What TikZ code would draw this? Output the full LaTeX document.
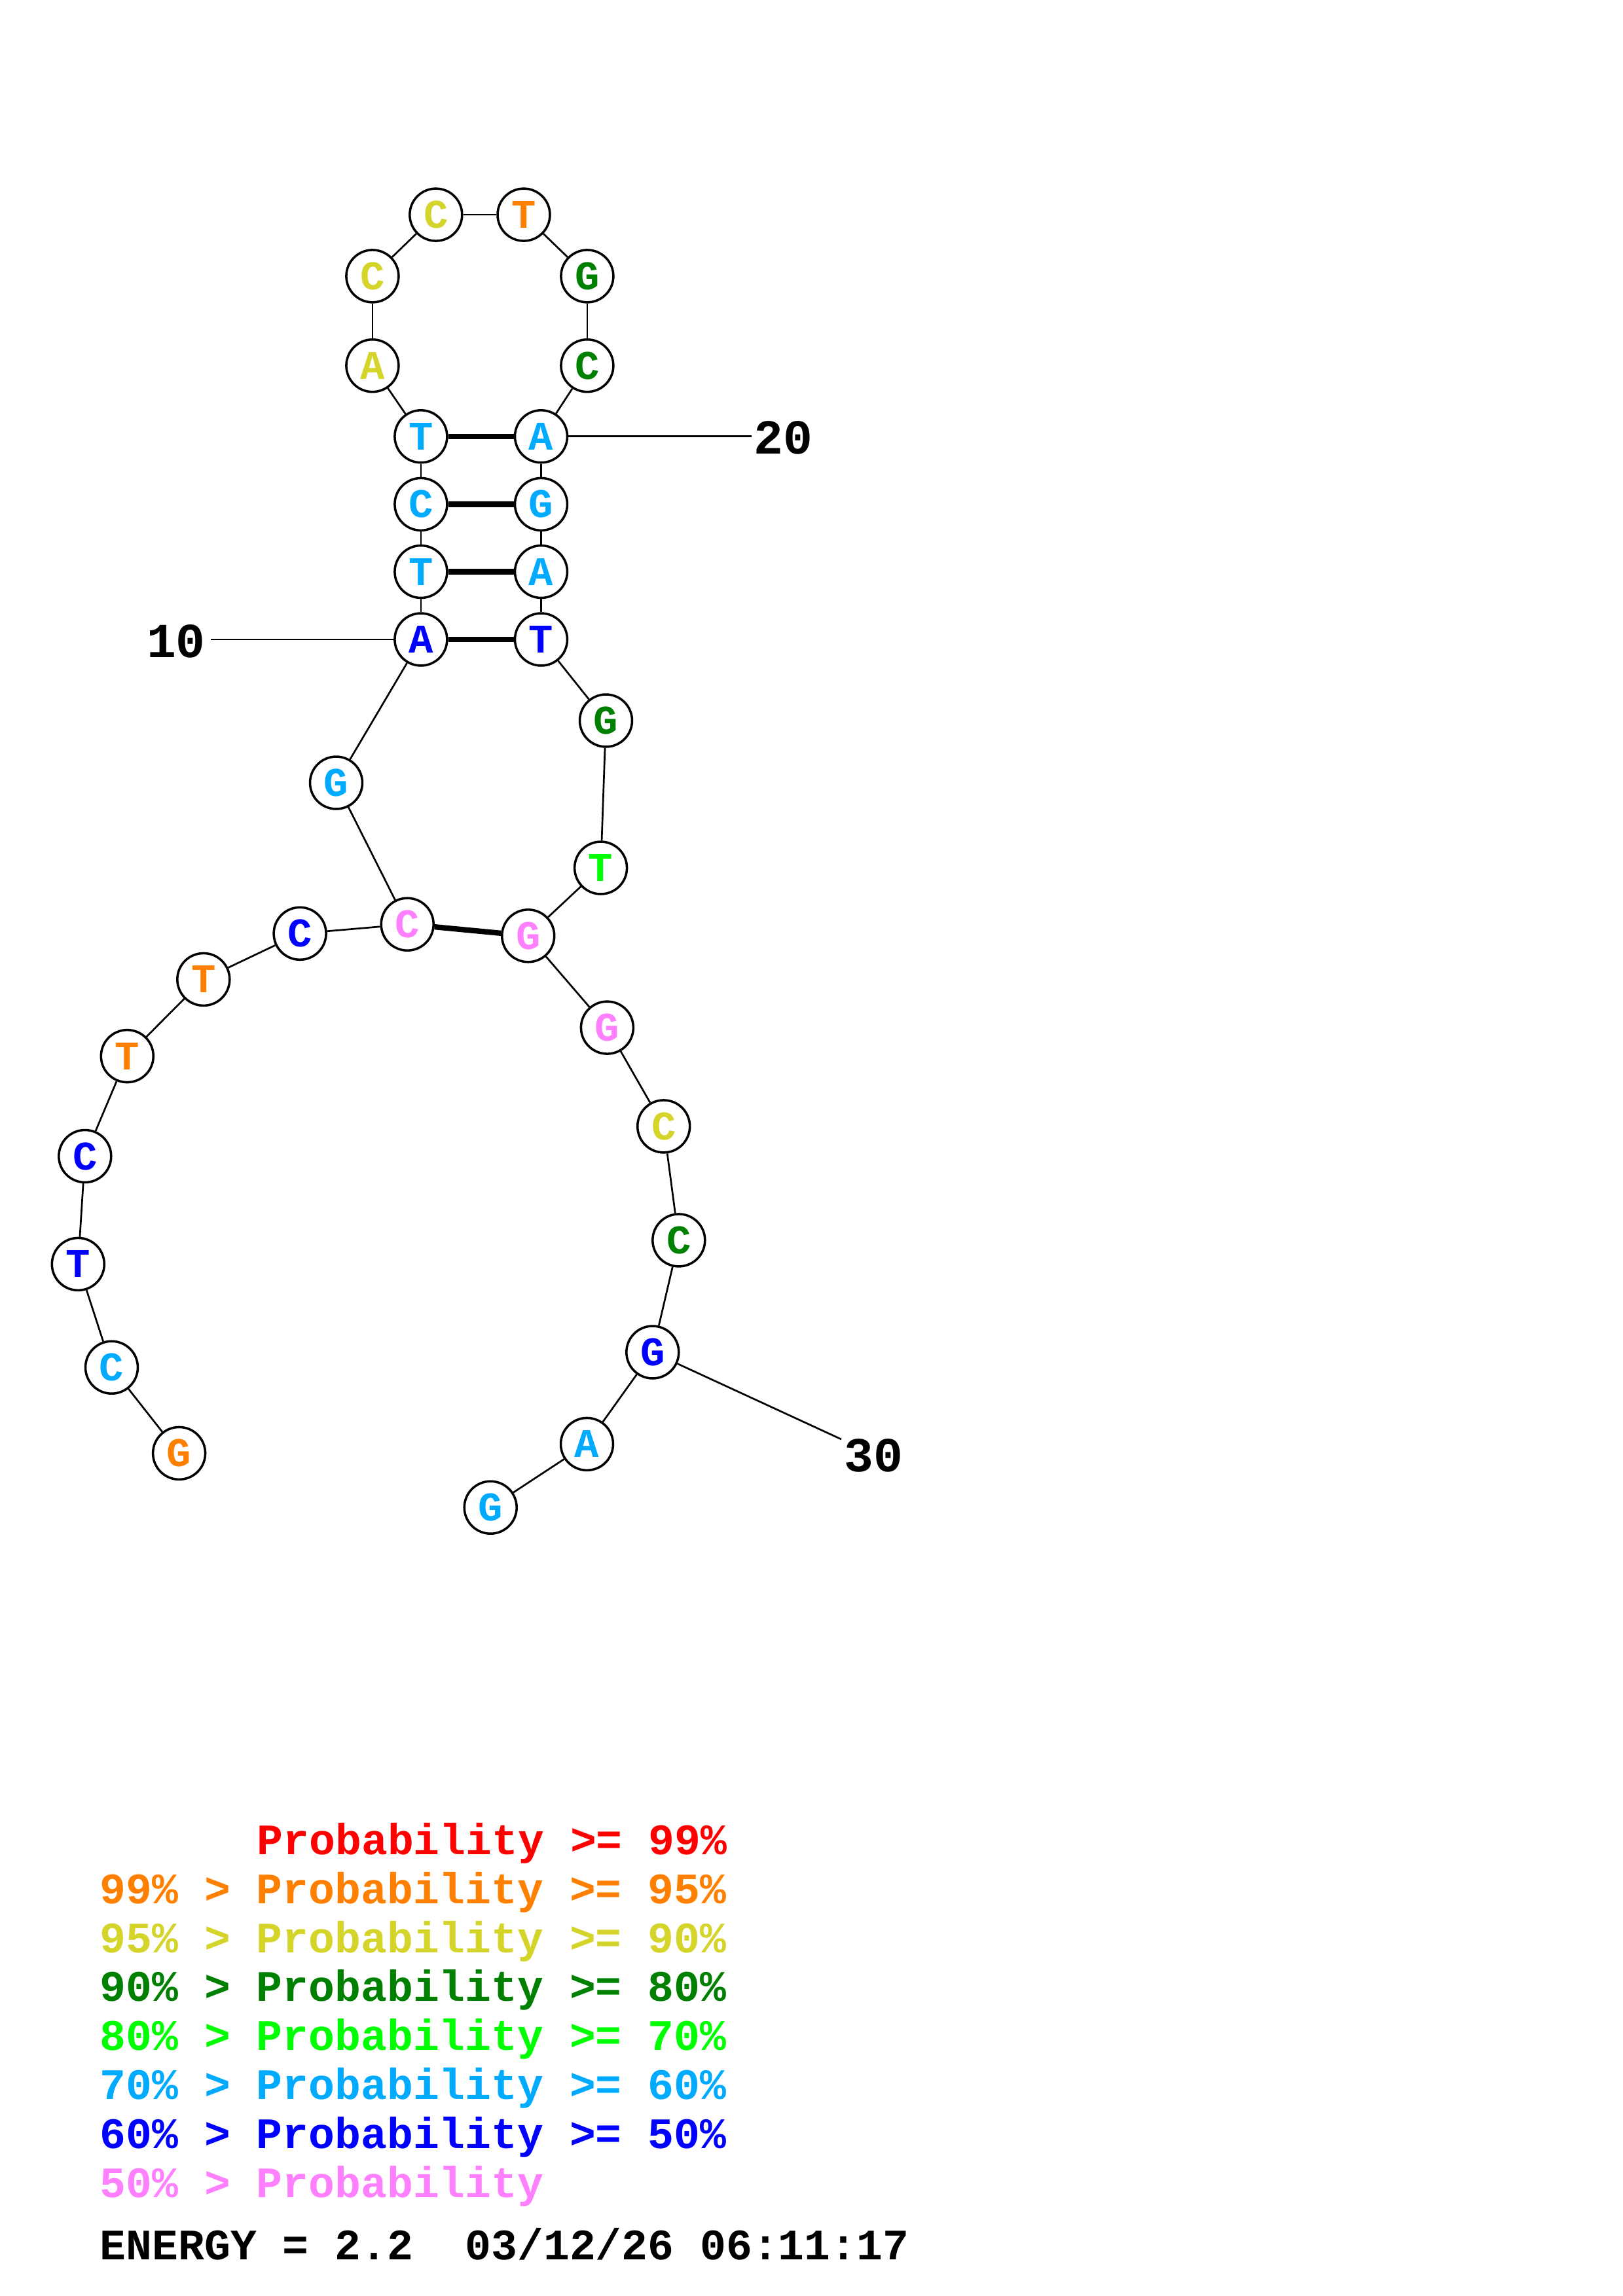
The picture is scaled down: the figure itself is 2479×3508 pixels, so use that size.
\documentclass[tikz,border=0pt]{standalone}
\usepackage{fontspec}
\newfontfamily\rnafont{Liberation Mono}
\definecolor{p99}{RGB}{255,0,0}
\definecolor{p95}{RGB}{255,128,0}
\definecolor{p90}{RGB}{212,212,42}
\definecolor{p80}{RGB}{0,128,0}
\definecolor{p70}{RGB}{0,255,0}
\definecolor{p60}{RGB}{0,170,255}
\definecolor{p50}{RGB}{0,0,255}
\definecolor{plow}{RGB}{255,128,255}
\tikzset{
  base/.style={circle, draw, fill=white, line width=0.85pt, minimum size=6.77mm,
    inner sep=0pt, font=\rnafont\bfseries\fontsize{15}{15}\selectfont},
  bb/.style={line width=0.65pt},
  bond/.style={line width=2pt},
  idx/.style={font=\rnafont\bfseries\fontsize{18}{18}\selectfont},
  legend/.style={anchor=base west, inner sep=0pt,
    font=\rnafont\bfseries\fontsize{16}{16}\selectfont}
}
\begin{document}
\begin{tikzpicture}[x=0.084667mm, y=-0.084667mm]
\useasboundingbox (0,0) rectangle (2479,3508);
{
\node[base, text=p95]  (1) at (273.6, 2220.4) {G};
\node[base, text=p60]  (2) at (170.5, 2089.2) {C};
\node[base, text=p50]  (3) at (119.3, 1931.4) {T};
\node[base, text=p50]  (4) at (129.8, 1766.5) {C};
\node[base, text=p95]  (5) at (194.3, 1613.6) {T};
\node[base, text=p95]  (6) at (310.8, 1496.4) {T};
\node[base, text=p50]  (7) at (458.1, 1426.3) {C};
\node[base, text=plow] (8) at (622.2, 1412.2) {C};
\node[base, text=p60]  (9) at (513.5, 1196.0) {G};
\node[base, text=p50]  (10) at (642.9, 977.0) {A};
\node[base, text=p60]  (11) at (642.9, 873.5) {T};
\node[base, text=p60]  (12) at (642.9, 770.4) {C};
\node[base, text=p60]  (13) at (642.9, 666.8) {T};
\node[base, text=p90]  (14) at (568.9, 558.7) {A};
\node[base, text=p90]  (15) at (568.9, 421.9) {C};
\node[base, text=p90]  (16) at (665.8, 328.1) {C};
\node[base, text=p95]  (17) at (800.0, 328.1) {T};
\node[base, text=p80]  (18) at (896.9, 421.9) {G};
\node[base, text=p80]  (19) at (896.9, 558.7) {C};
\node[base, text=p60]  (20) at (826.5, 666.8) {A};
\node[base, text=p60]  (21) at (826.5, 770.4) {G};
\node[base, text=p60]  (22) at (826.5, 873.5) {A};
\node[base, text=p50]  (23) at (826.5, 977.0) {T};
\node[base, text=p80]  (24) at (925.5, 1101.0) {G};
\node[base, text=p70]  (25) at (917.6, 1326.0) {T};
\node[base, text=plow] (26) at (806.7, 1429.8) {G};
\node[base, text=plow] (27) at (927.4, 1570.1) {G};
\node[base, text=p90]  (28) at (1013.7, 1720.9) {C};
\node[base, text=p80]  (29) at (1036.8, 1894.9) {C};
\node[base, text=p50]  (30) at (996.8, 2066.0) {G};
\node[base, text=p60]  (31) at (896.5, 2206.4) {A};
\node[base, text=p60]  (32) at (749.2, 2303.2) {G};

% backbone 5' -> 3'
\path[bb] (1) edge (2);
\path[bb] (2) edge (3);
\path[bb] (3) edge (4);
\path[bb] (4) edge (5);
\path[bb] (5) edge (6);
\path[bb] (6) edge (7);
\path[bb] (7) edge (8);
\path[bb] (8) edge (9);
\path[bb] (9) edge (10);
\path[bb] (10) edge (11);
\path[bb] (11) edge (12);
\path[bb] (12) edge (13);
\path[bb] (13) edge (14);
\path[bb] (14) edge (15);
\path[bb] (15) edge (16);
\path[bb] (16) edge (17);
\path[bb] (17) edge (18);
\path[bb] (18) edge (19);
\path[bb] (19) edge (20);
\path[bb] (20) edge (21);
\path[bb] (21) edge (22);
\path[bb] (22) edge (23);
\path[bb] (23) edge (24);
\path[bb] (24) edge (25);
\path[bb] (25) edge (26);
\path[bb] (26) edge (27);
\path[bb] (27) edge (28);
\path[bb] (28) edge (29);
\path[bb] (29) edge (30);
\path[bb] (30) edge (31);
\path[bb] (31) edge (32);

% base pairs
\path[bond] (10) edge (23);
\path[bond] (11) edge (22);
\path[bond] (12) edge (21);
\path[bond] (13) edge (20);
\path[bond] (8) edge (26);

% position ticks
\coordinate (t10) at (322, 977);
\coordinate (t20) at (1148, 666.8);
\coordinate (t30) at (1285, 2199);
\path[bb] (10) edge (t10);
\path[bb] (20) edge (t20);
\path[bb] (30) edge (t30);
\node[idx] (l10) at (269, 980) {10};
\node[idx] (l20) at (1196, 669) {20};
\node[idx] (l30) at (1334, 2224) {30};

% legend
\node[legend, text=p99]  (k99) at (392, 2833) {Probability >= 99\%};
\node[legend, text=p95]  (k95) at (152, 2908) {99\% > Probability >= 95\%};
\node[legend, text=p90]  (k90) at (152, 2983) {95\% > Probability >= 90\%};
\node[legend, text=p80]  (k80) at (152, 3057) {90\% > Probability >= 80\%};
\node[legend, text=p70]  (k70) at (152, 3132) {80\% > Probability >= 70\%};
\node[legend, text=p60]  (k60) at (152, 3207) {70\% > Probability >= 60\%};
\node[legend, text=p50]  (k50) at (152, 3282) {60\% > Probability >= 50\%};
\node[legend, text=plow] (klow) at (152, 3357) {50\% > Probability};
\node[legend] (energy) at (152, 3452) {ENERGY = 2.2~~03/12/26 06:11:17};
}
\end{tikzpicture}
\end{document}
